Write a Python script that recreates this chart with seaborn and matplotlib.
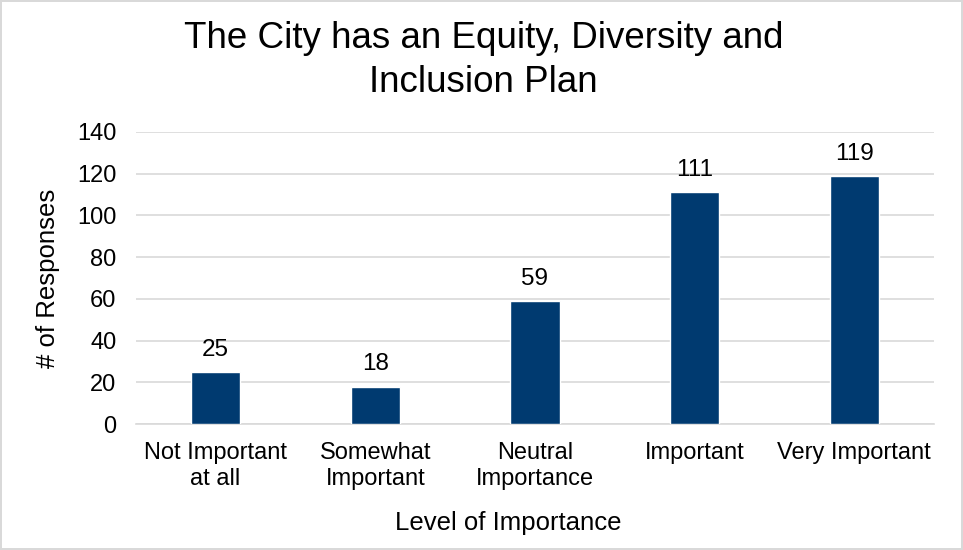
import pandas as pd
import matplotlib.pyplot as plt
import seaborn as sns

categories = ["Not Important\nat all", "Somewhat\nImportant", "Neutral\nImportance",
              "Important", "Very Important"]
responses = [25, 18, 59, 111, 119]

sns.set_style("white")
plt.rcParams['font.family'] = ['Liberation Sans', 'DejaVu Sans']
plt.rcParams['text.color'] = 'black'
plt.rcParams['axes.labelcolor'] = 'black'

df = pd.DataFrame({'level': categories, 'count': responses})

fig = plt.figure(figsize=(9.63, 5.5), dpi=100)
fig.patch.set_edgecolor('#D9D9D9')
fig.patch.set_linewidth(1.5)
ax = fig.add_axes([0.141, 0.229, 0.829, 0.531])

sns.barplot(data=df, x='level', y='count', color='#003A70', width=0.31,
            saturation=1, ax=ax, zorder=3)

ax.set_ylim(0, 140)
ax.set_yticks(range(0, 141, 20))
ax.grid(axis='y', color='#D9D9D9', linewidth=1.2, zorder=0)
for s in ['top', 'right', 'left']:
    ax.spines[s].set_visible(False)
ax.spines['bottom'].set_color('#D9D9D9')
ax.spines['bottom'].set_linewidth(1.2)
ax.tick_params(axis='both', length=0, labelsize=17, colors='black')
ax.tick_params(axis='x', pad=13)
ax.tick_params(axis='y', pad=14)
for t in ax.get_xticklabels():
    t.set_linespacing(1.2)

# 数值标签
for p, v in zip(ax.patches, responses):
    ax.annotate(str(v), (p.get_x() + p.get_width() / 2, v), xytext=(0, 8),
                textcoords='offset points', ha='center', va='bottom', fontsize=17.5)

ax.set_xlabel('Level of Importance', fontsize=18.5)
ax.xaxis.set_label_coords(0.466, -0.339)
ax.xaxis.label.set_va('center')
ax.set_ylabel('# of Responses', fontsize=18.5)
ax.yaxis.set_label_coords(-0.11, 0.5)
ax.yaxis.label.set_va('center')
fig.text(0.502, 0.89, 'The City has an Equity, Diversity and\nInclusion Plan',
         ha='center', va='center', fontsize=26.5, linespacing=1.3)

plt.savefig('out.png', dpi=100)
